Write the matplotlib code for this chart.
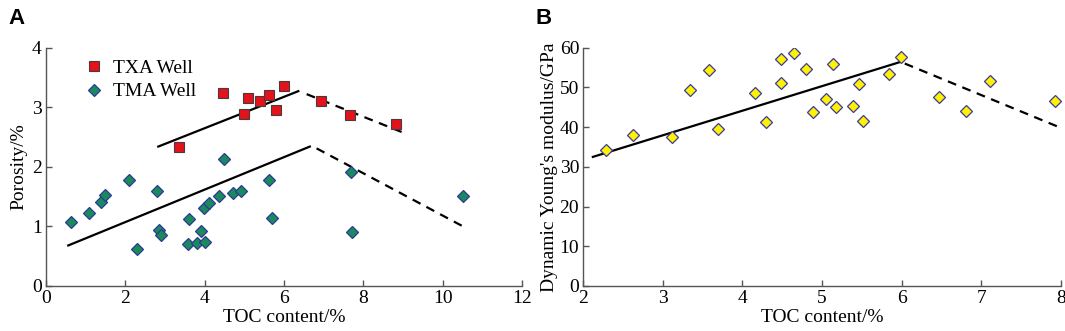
import matplotlib
matplotlib.use("Agg")
import matplotlib.pyplot as plt

# Panel A data
txa_toc = [3.34, 4.45, 4.99, 5.10, 5.39, 5.61, 5.80, 6.01, 6.92, 7.66, 8.82]
txa_por = [2.34, 3.24, 2.89, 3.16, 3.11, 3.21, 2.95, 3.36, 3.11, 2.87, 2.72]
tma_toc = [0.62, 1.09, 1.39, 1.49, 2.09, 2.81, 2.29, 2.85, 2.91, 3.60, 3.59, 3.80,
           3.91, 4.01, 3.99, 4.10, 4.37, 4.49, 4.71, 4.92, 5.62, 5.69, 7.69, 7.72, 10.50]
tma_por = [1.08, 1.22, 1.41, 1.52, 1.78, 1.60, 0.62, 0.94, 0.86, 1.13, 0.71, 0.72,
           0.92, 0.73, 1.31, 1.40, 1.51, 2.13, 1.56, 1.60, 1.78, 1.14, 1.91, 0.91, 1.51]
txa_solid_x = [2.83, 6.36]
txa_solid_y = [2.34, 3.27]
txa_dash_x = [6.57, 9.02]
txa_dash_y = [3.22, 2.57]
tma_solid_x = [0.56, 6.65]
tma_solid_y = [0.68, 2.34]
tma_dash_x = [6.82, 10.54]
tma_dash_y = [2.31, 0.99]

# Panel B data
b_toc = [2.29, 2.62, 3.12, 3.34, 3.58, 3.69, 4.16, 4.30, 4.48, 4.48, 4.65, 4.80, 4.89,
         5.05, 5.14, 5.18, 5.39, 5.47, 5.51, 5.84, 5.99, 6.47, 6.81, 7.11, 7.93]
b_ym = [34.2, 38.1, 37.5, 49.3, 54.4, 39.4, 48.5, 41.3, 57.2, 51.0, 58.6, 54.6, 43.8,
        47.0, 56.0, 45.0, 45.4, 50.8, 41.5, 53.4, 57.7, 47.5, 44.1, 51.5, 46.6]
b_solid_x = [2.12, 6.00]
b_solid_y = [32.5, 56.5]
b_dash_x = [6.04, 7.99]
b_dash_y = [56.0, 39.9]

serif = ["Liberation Serif", "DejaVu Serif"]
plt.rcParams["font.family"] = serif

fig = plt.figure(figsize=(10.65, 3.31), dpi=100)
axA = fig.add_axes([0.0432, 0.136, 0.447, 0.720])
axB = fig.add_axes([0.5477, 0.136, 0.4483, 0.720])

spine_col = "#555555"
dash = (0, (4, 3))
FS = 14

def style(ax):
    for s in ["top", "right"]:
        ax.spines[s].set_visible(False)
    for s in ["left", "bottom"]:
        ax.spines[s].set_color(spine_col)
        ax.spines[s].set_linewidth(1.0)
    ax.tick_params(direction="in", length=4, width=1.0, color=spine_col,
                   labelsize=FS, pad=3)

# Panel A
axA.plot(txa_solid_x, txa_solid_y, color="black", lw=1.6)
axA.plot(txa_dash_x, txa_dash_y, color="black", lw=1.6, linestyle=dash)
axA.plot(tma_solid_x, tma_solid_y, color="black", lw=1.6)
axA.plot(tma_dash_x, tma_dash_y, color="black", lw=1.6, linestyle=dash)
axA.plot(txa_toc, txa_por, linestyle="none", marker="s", markersize=6.5,
         markerfacecolor="#E3121B", markeredgecolor="#4a3a3a", markeredgewidth=0.8,
         label="TXA Well", zorder=3)
axA.plot(tma_toc, tma_por, linestyle="none", marker="D", markersize=6.3,
         markerfacecolor="#1B8A5A", markeredgecolor="#2B3A9A", markeredgewidth=0.9,
         label="TMA Well", zorder=3)
axA.set_xlim(0, 12)
axA.set_ylim(0, 4)
axA.set_xticks([0, 2, 4, 6, 8, 10, 12])
axA.set_yticks([0, 1, 2, 3, 4])
axA.set_xlabel("TOC content/%", fontsize=FS, labelpad=1)
axA.set_ylabel("Porosity/%", fontsize=FS, labelpad=3)
style(axA)
leg = axA.legend(loc="upper left", bbox_to_anchor=(0.055, 1.0), frameon=False,
                 fontsize=FS, handlelength=1.0, handletextpad=0.5,
                 borderaxespad=0.2, labelspacing=0.3)

# Panel B
axB.plot(b_solid_x, b_solid_y, color="black", lw=1.6)
axB.plot(b_dash_x, b_dash_y, color="black", lw=1.6, linestyle=dash)
axB.plot(b_toc, b_ym, linestyle="none", marker="D", markersize=6.0,
         markerfacecolor="#FFF200", markeredgecolor="#3A3A9E", markeredgewidth=0.9,
         zorder=3)
axB.set_xlim(2, 8)
axB.set_ylim(0, 60)
axB.set_xticks([2, 3, 4, 5, 6, 7, 8])
axB.set_yticks([0, 10, 20, 30, 40, 50, 60])
axB.set_xlabel("TOC content/%", fontsize=FS, labelpad=1)
axB.set_ylabel("Dynamic Young's modulus/GPa", fontsize=FS, labelpad=1)
style(axB)

fig.text(0.008, 0.975, "A", fontsize=16, fontweight="bold",
         family=["Liberation Sans", "DejaVu Sans"], va="top", ha="left")
fig.text(0.503, 0.975, "B", fontsize=16, fontweight="bold",
         family=["Liberation Sans", "DejaVu Sans"], va="top", ha="left")

fig.savefig("out.png", dpi=100)
